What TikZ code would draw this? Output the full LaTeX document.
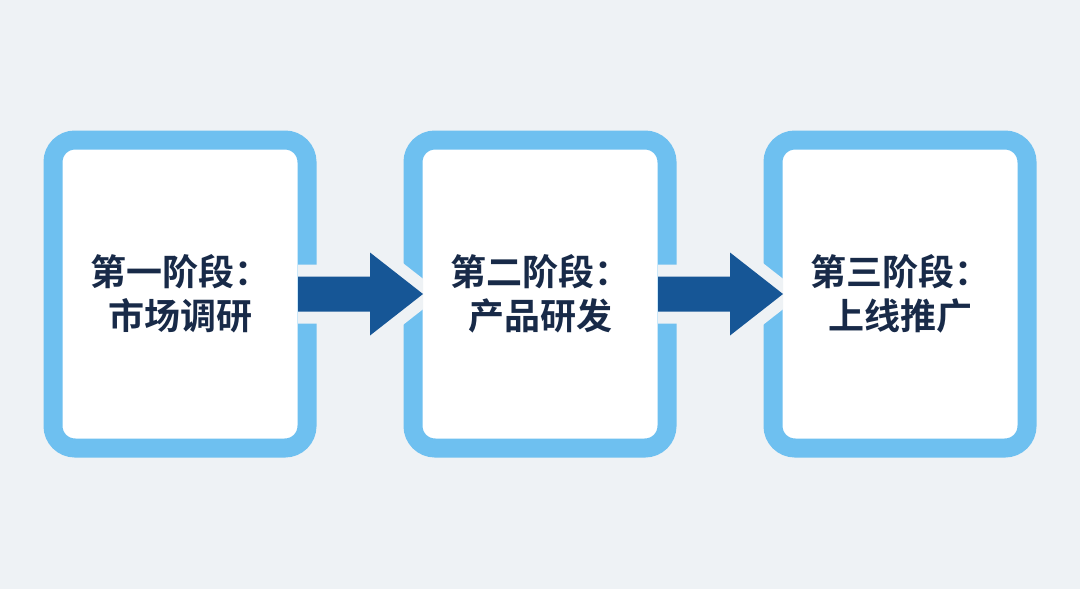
\documentclass[tikz,border=0pt]{standalone}
\usepackage{fontspec}
\newfontfamily\cjk{Noto Sans CJK SC Bold}
\usetikzlibrary{calc}
\definecolor{bgc}{RGB}{238,242,245}
\definecolor{bordc}{RGB}{110,192,240}
\definecolor{arrc}{RGB}{22,86,150}
\definecolor{txtc}{RGB}{24,42,72}
\tikzset{
  stagebox/.style={draw=bordc, fill=white, line width=19pt, rounded corners=22pt,
    minimum width=254pt, minimum height=308pt, outer sep=0pt, inner sep=0pt,
    align=center, text=txtc, font=\cjk\fontsize{36pt}{44pt}\selectfont},
  arroutl/.style={draw=bgc, line width=24pt, line join=round},
  arrfill/.style={fill=arrc}
}
\begin{document}
\begin{tikzpicture}[x=1pt,y=-1pt]
\fill[bgc] (0,0) rectangle (1080,589);
\useasboundingbox (0,0) rectangle (1080,589);
\node[stagebox] (b1) at (180,294) {第一阶段：\\市场调研};
\node[stagebox] (b2) at (540,294) {第二阶段：\\产品研发};
\node[stagebox] (b3) at (900,294) {第三阶段：\\上线推广};
\foreach \a/\b in {b1/b2,b2/b3}{
  \coordinate (s\a) at ($(\a.east)+(-9,0)$);
  \coordinate (t\a) at ($(\b.west)+(10,0)$);
  \begin{scope}
    \clip ($(s\a)+(0,-100)$) rectangle ($(t\a)+(0,100)$);
    \draw[arroutl] ($(s\a)+(0,-17.5)$) -- ++(72,0) -- ++(0,-24) -- (t\a)
       -- ($(s\a)+(72,41.5)$) -- ++(0,-24) -- ++(-72,0);
  \end{scope}
  \fill[arrfill] ($(s\a)+(0,-17.5)$) -- ++(72,0) -- ++(0,-24) -- (t\a)
     -- ($(s\a)+(72,41.5)$) -- ++(0,-24) -- ++(-72,0) -- cycle;
}
\end{tikzpicture}
\end{document}
